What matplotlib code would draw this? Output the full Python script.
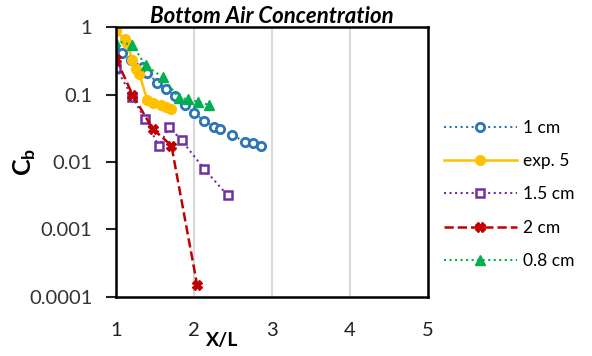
import matplotlib.pyplot as plt

plt.rcParams['font.family'] = ['Lato', 'DejaVu Sans']

# 1 cm
x_1cm = [0.98, 1.08, 1.19, 1.34, 1.40, 1.53, 1.64, 1.76, 1.89, 2.00, 2.13, 2.26, 2.33, 2.49, 2.65, 2.76, 2.86]
y_1cm = [0.51, 0.41, 0.32, 0.26, 0.21, 0.15, 0.12, 0.095, 0.070, 0.053, 0.041, 0.033, 0.031, 0.025, 0.020, 0.019, 0.017]
# exp. 5
x_exp5 = [1.00, 1.11, 1.14, 1.21, 1.25, 1.30, 1.40, 1.47, 1.58, 1.64, 1.70]
y_exp5 = [0.87, 0.66, 0.59, 0.32, 0.24, 0.20, 0.083, 0.074, 0.070, 0.066, 0.060]
# 1.5 cm
x_15cm = [1.00, 1.21, 1.37, 1.55, 1.68, 1.84, 2.13, 2.43]
y_15cm = [0.25, 0.091, 0.044, 0.017, 0.033, 0.021, 0.0079, 0.0032]
# 2 cm
x_2cm = [1.00, 1.21, 1.47, 1.71, 2.04]
y_2cm = [0.34, 0.10, 0.031, 0.0175, 0.00015]
# 0.8 cm
x_08cm = [0.99, 1.21, 1.38, 1.60, 1.81, 1.92, 2.05, 2.19]
y_08cm = [0.63, 0.54, 0.27, 0.18, 0.088, 0.086, 0.078, 0.070]

fig = plt.figure(figsize=(5.92, 3.56), dpi=100)
ax = fig.add_axes([0.196, 0.166, 0.527, 0.758])

ax.plot(x_1cm, y_1cm, ls=':', lw=1.5, color='#2E75B6', marker='o', ms=6,
        mfc='white', mec='#2E75B6', mew=2, label='1 cm')
ax.plot(x_exp5, y_exp5, ls='-', lw=1.8, color='#FFC000', marker='o', ms=7,
        mfc='#FFC000', mec='#FFC000', label='exp. 5')
ax.plot(x_15cm, y_15cm, ls=':', lw=1.5, color='#7030A0', marker='s', ms=6,
        mfc='white', mec='#7030A0', mew=1.8, label='1.5 cm')
ax.plot(x_2cm, y_2cm, ls='--', lw=1.8, color='#C00000', marker='X', ms=7,
        mfc='#C00000', mec='#C00000', label='2 cm')
ax.plot(x_08cm, y_08cm, ls=':', lw=1.5, color='#00B050', marker='^', ms=7,
        mfc='#00B050', mec='#00B050', label='0.8 cm')

ax.set_yscale('log')
ax.set_xlim(1, 5)
ax.set_ylim(0.0001, 1)
ax.set_xticks([1, 2, 3, 4, 5])
ax.set_yticks([0.0001, 0.001, 0.01, 0.1, 1])
ax.set_yticklabels(['0.0001', '0.001', '0.01', '0.1', '1'])
ax.minorticks_off()
ax.tick_params(axis='y', length=7, width=1.5, pad=10, labelsize=14.5, colors='#222222')
ax.tick_params(axis='x', length=0, pad=18, labelsize=14.5, colors='#222222')
ax.tick_params(axis='y', labelcolor='#333333')
ax.grid(axis='x', color='#D9D9D9', lw=1.5)
ax.set_axisbelow(True)
for s in ax.spines.values():
    s.set_linewidth(1.8)
    s.set_color('black')

ax.set_title('Bottom Air Concentration', fontsize=16, fontweight='bold', style='italic', pad=3)
ax.set_xlabel('X/L', fontsize=14, fontweight='bold')
ax.xaxis.set_label_coords(0.34, -0.13)
ax.set_ylabel(r'C$_\mathregular{b}$', fontsize=18, fontweight='bold')
ax.yaxis.set_label_coords(-0.25, 0.5)

ax.legend(loc='center left', bbox_to_anchor=(1.0, 0.38), frameon=False, numpoints=1,
          handlelength=4.2, fontsize=12.5, labelspacing=1.0, handletextpad=0.35)

fig.savefig('out.png', dpi=100)
